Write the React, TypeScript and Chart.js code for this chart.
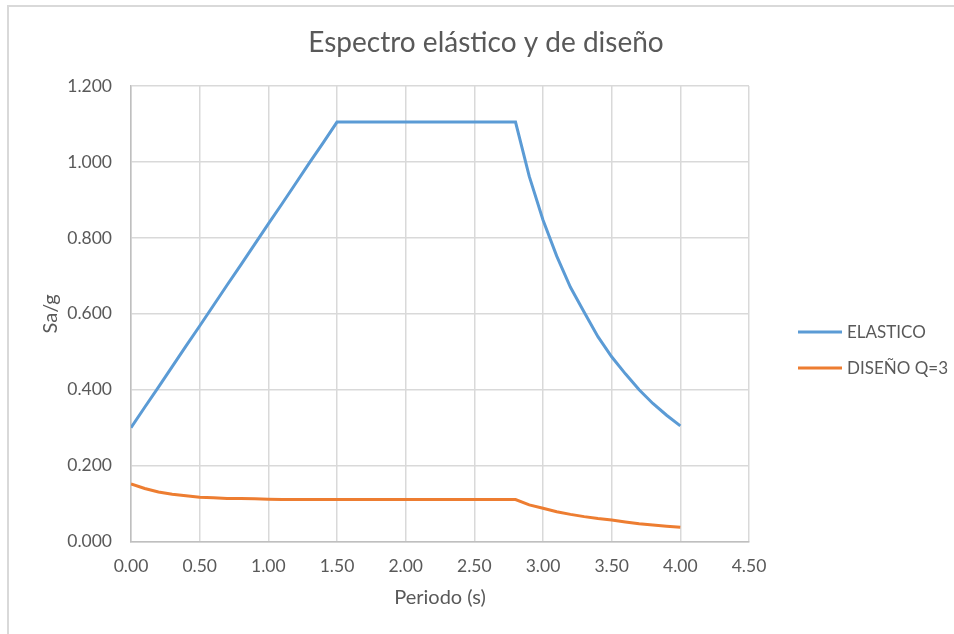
import React, { useEffect, useRef } from "react";
import { Chart, registerables } from "chart.js";

Chart.register(...registerables);

// Periodo (s)
const periods = [
  0.0, 0.1, 0.2, 0.3, 0.4, 0.5, 0.6, 0.7, 0.8, 0.9,
  1.0, 1.1, 1.2, 1.3, 1.4, 1.5, 1.6, 1.7, 1.8, 1.9,
  2.0, 2.1, 2.2, 2.3, 2.4, 2.5, 2.6, 2.7, 2.8, 2.9,
  3.0, 3.1, 3.2, 3.3, 3.4, 3.5, 3.6, 3.7, 3.8, 3.9,
  4.0,
];

// Sa/g, espectro elástico
const elastico = [
  0.300, 0.354, 0.407, 0.461, 0.515, 0.568, 0.622, 0.676, 0.729, 0.783,
  0.837, 0.890, 0.944, 0.998, 1.051, 1.105, 1.105, 1.105, 1.105, 1.105,
  1.105, 1.105, 1.105, 1.105, 1.105, 1.105, 1.105, 1.105, 1.105, 0.962,
  0.847, 0.752, 0.670, 0.604, 0.540, 0.487, 0.442, 0.400, 0.364, 0.333,
  0.305,
];

// Sa/g, espectro de diseño con Q = 3
const disenoQ3 = [
  0.152, 0.140, 0.131, 0.125, 0.121, 0.117, 0.116, 0.114, 0.114, 0.113,
  0.112, 0.111, 0.111, 0.111, 0.111, 0.111, 0.111, 0.111, 0.111, 0.111,
  0.111, 0.111, 0.111, 0.111, 0.111, 0.111, 0.111, 0.111, 0.111, 0.097,
  0.088, 0.079, 0.072, 0.066, 0.061, 0.057, 0.052, 0.047, 0.044, 0.041,
  0.038,
];

const seriesNames = ["ELASTICO", "DISEÑO Q=3"];
const seriesColors = ["#5B9BD5", "#ED7D31"];
const chartTitle = "Espectro elástico y de diseño";
const xTitle = "Periodo (s)";
const yTitle = "Sa/g";

const FONT = "Lato, 'Open Sans', sans-serif";
const TEXT = "#595959";

// Title centred over the whole chart frame
const titlePlugin = {
  id: "frameTitle",
  afterDraw(chart: any) {
    const { ctx } = chart;
    ctx.save();
    ctx.font = `28px ${FONT}`;
    ctx.fillStyle = TEXT;
    ctx.textAlign = "center";
    ctx.textBaseline = "middle";
    ctx.fillText(chartTitle, 486, 43);
    ctx.restore();
  },
};

// Legend on the right with line samples
const sideLegend = {
  id: "sideLegend",
  afterDraw(chart: any) {
    const { ctx, chartArea } = chart;
    const x0 = chartArea.right + 49;
    const sample = 44;
    ctx.save();
    ctx.font = `17px ${FONT}`;
    ctx.textBaseline = "middle";
    ctx.textAlign = "left";
    chart.data.datasets.forEach((ds: any, i: number) => {
      const y = 332 + i * 36;
      ctx.strokeStyle = ds.borderColor;
      ctx.lineWidth = 3;
      ctx.beginPath();
      ctx.moveTo(x0, y);
      ctx.lineTo(x0 + sample, y);
      ctx.stroke();
      ctx.fillStyle = TEXT;
      ctx.fillText(ds.label, x0 + sample + 5, y + 1);
    });
    ctx.restore();
  },
};

export default function App() {
  const canvasRef = useRef<HTMLCanvasElement | null>(null);

  useEffect(() => {
    if (!canvasRef.current) return;
    const toPoints = (ys: number[]) => periods.map((x, i) => ({ x, y: ys[i] }));
    const chart = new Chart(canvasRef.current, {
      type: "scatter",
      data: {
        datasets: [
          {
            label: seriesNames[0],
            data: toPoints(elastico),
            borderColor: seriesColors[0],
            backgroundColor: seriesColors[0],
            borderWidth: 3,
            showLine: true,
            pointRadius: 0,
            tension: 0,
          },
          {
            label: seriesNames[1],
            data: toPoints(disenoQ3),
            borderColor: seriesColors[1],
            backgroundColor: seriesColors[1],
            borderWidth: 3,
            showLine: true,
            pointRadius: 0,
            tension: 0,
          },
        ],
      },
      options: {
        animation: false,
        responsive: false,
        layout: { padding: { left: 0, right: 205, top: 86, bottom: 0 } },
        plugins: {
          legend: { display: false },
          title: { display: false },
          tooltip: { enabled: false },
        },
        scales: {
          x: {
            type: "linear",
            min: 0,
            max: 4.5,
            ticks: {
              stepSize: 0.5,
              padding: 14,
              color: TEXT,
              font: { family: FONT, size: 17.5 },
              callback: (v: any) => Number(v).toFixed(2),
              maxRotation: 0,
            },
            grid: { color: "#d9d9d9", lineWidth: 1.5, drawTicks: false },
            border: { color: "#bfbfbf", width: 1.5 },
            title: {
              display: true,
              text: xTitle,
              color: TEXT,
              font: { family: FONT, size: 20 },
              padding: { top: 0, bottom: 24 },
            },
            afterFit: (s: any) => {
              s.height = 92.3;
            },
          },
          y: {
            type: "linear",
            min: 0,
            max: 1.2,
            ticks: {
              stepSize: 0.2,
              padding: 19,
              color: TEXT,
              font: { family: FONT, size: 17.5 },
              callback: (v: any) => Number(v).toFixed(3),
            },
            grid: { color: "#d9d9d9", lineWidth: 1.5, drawTicks: false },
            border: { color: "#bfbfbf", width: 1.5 },
            title: {
              display: true,
              text: yTitle,
              color: TEXT,
              font: { family: FONT, size: 20 },
              padding: { top: 39, bottom: 0 },
            },
            afterFit: (s: any) => {
              s.width = 131;
            },
          },
        },
      },
      plugins: [titlePlugin, sideLegend],
    });
    return () => chart.destroy();
  }, []);

  return (
    <div
      style={{
        position: "fixed",
        left: 0,
        top: 0,
        width: 954,
        height: 634,
        overflow: "hidden",
        background: "#ffffff",
      }}
    >
      <canvas
        ref={canvasRef}
        width={954}
        height={634}
        style={{ position: "absolute", left: 0, top: 0, width: 954, height: 634 }}
      />
      <div
        style={{
          position: "absolute",
          left: 7,
          top: 5,
          width: 1000,
          height: 1000,
          border: "2px solid #d9d9d9",
          pointerEvents: "none",
        }}
      />
    </div>
  );
}
